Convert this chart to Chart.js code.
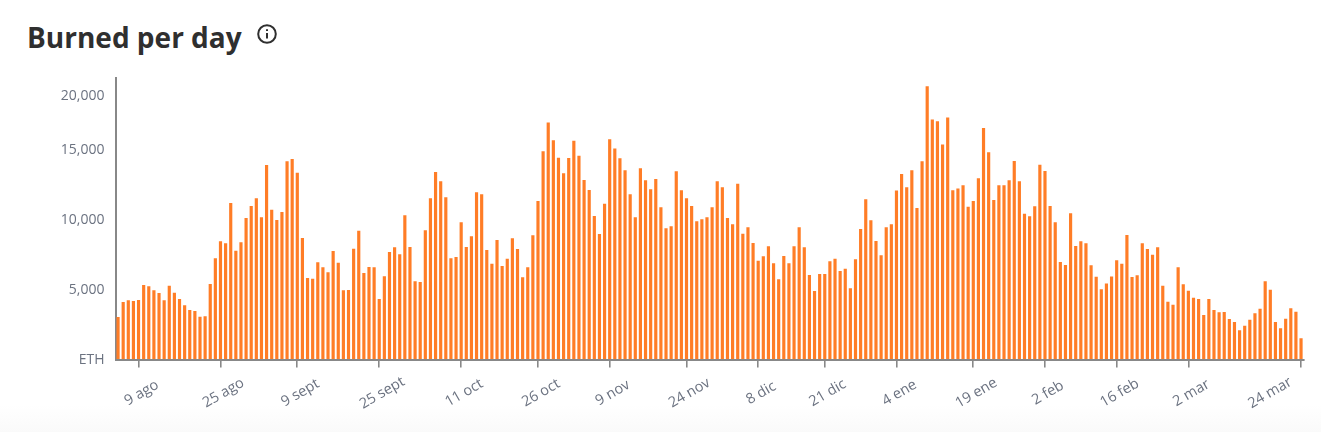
<!DOCTYPE html>
<html><head><meta charset="utf-8">
<script src="https://cdn.jsdelivr.net/npm/chart.js@4/dist/chart.umd.js"></script>
<style>
html,body{margin:0;padding:0;width:1321px;height:432px;overflow:hidden;background:#fff}
#bg{position:absolute;left:0;top:405px;width:1321px;height:27px;background:linear-gradient(#fff,#fafafa)}
#title{position:absolute;left:27px;top:17px;font:700 28px/40px "Open Sans",sans-serif;color:#2f2f2f;white-space:nowrap}
#info{position:absolute;left:256px;top:23px}
canvas{position:absolute;left:0;top:0}
</style></head><body>
<div id="bg"></div>
<div id="title">Burned per day</div>
<svg id="info" width="22" height="22" viewBox="0 0 22 22" fill="none" stroke="#2f2f2f" stroke-width="2">
<circle cx="11" cy="11" r="8.8"/><line x1="11" y1="10" x2="11" y2="15.5"/><line x1="11" y1="6.2" x2="11" y2="8"/></svg>
<canvas id="c" width="1321" height="432"></canvas>
<script>
const monthNames = ['ago','sept','oct','nov','dic','ene','feb','mar'];
const monthFirstDay = [5,1,1,1,1,1,1,1];
const monthLastDay = [31,30,31,30,31,31,28,24];
const xTickLabels = ['9 ago','25 ago','9 sept','25 sept','11 oct','26 oct','9 nov','24 nov','8 dic','21 dic','4 ene','19 ene','2 feb','16 feb','2 mar','24 mar'];
const yTickValues = [0,5000,10000,15000,20000];
const yTickLabels = ['ETH','5,000','10,000','15,000','20,000'];
const burned = [
3040,4110,4230,4180,4250,5320,5230,4940,4750,4230,5270,4770,4320,3870,3540,3460,3060,3090,5390,7230,
8440,8300,11180,7770,8370,10110,10960,11510,10160,13890,10700,9960,10540,14160,14320,13340,8680,5820,5770,6940,
6590,6230,7750,6910,4940,4960,7910,9200,6180,6610,6590,4320,5940,7680,8010,7510,10300,8040,5590,5540,
9230,11510,13390,12730,11590,7230,7320,9800,8040,8800,11940,11800,7820,6840,8540,6680,7200,8660,7890,5870,
6590,8870,11320,14870,17470,15860,14410,13300,14390,15800,14560,12820,12110,10250,8960,11130,15930,15090,14370,13510,
11800,10160,13660,12800,12160,12890,10870,9370,9510,13440,12090,11510,10960,9870,10010,10160,10870,12730,12300,10110,
9660,12560,8990,9440,8320,7060,7370,8090,6870,5730,7390,6870,8090,9440,8010,6040,4890,6110,6110,7010,
7200,6320,6490,5090,7160,9320,11440,9940,8460,7440,9440,9660,12070,13250,12300,13520,10820,14160,20830,17750,
17590,15460,17940,12090,12210,12440,10910,11320,12940,16970,14800,11390,12440,12440,12800,14180,12730,10410,10230,10940,
13910,13460,10960,9800,6960,6750,10440,8110,8440,8300,6730,5910,5010,5430,5930,7090,6840,8890,5890,6010,
8300,7890,7490,8010,5270,4130,3910,6590,5370,4910,4410,4320,3180,4320,3540,3370,3390,2890,2680,2090,
2410,2840,3300,3630,5590,4990,2680,2230,2910,3660,3410,1510];
const categories = [];
monthNames.forEach((m,i)=>{for(let d=monthFirstDay[i];d<=monthLastDay[i];d++)categories.push(d+' '+m);});

const yKnotValues = [0,5000,10000,15000,20000,21600];
const yKnotFractions = [0,0.2487,0.4973,0.7460,0.9396,1];
class PiecewiseScale extends Chart.LinearScale {
  static id = 'piecewise';
  static defaults = Chart.LinearScale.defaults;
  getPixelForValue(v){
    let i=0; while(i<yKnotValues.length-2 && v>yKnotValues[i+1]) i++;
    const t=(v-yKnotValues[i])/(yKnotValues[i+1]-yKnotValues[i]);
    const f=yKnotFractions[i]+t*(yKnotFractions[i+1]-yKnotFractions[i]);
    return this.bottom-f*(this.bottom-this.top);
  }
  getValueForPixel(p){
    const f=(this.bottom-p)/(this.bottom-this.top);
    let i=0; while(i<yKnotFractions.length-2 && f>yKnotFractions[i+1]) i++;
    const t=(f-yKnotFractions[i])/(yKnotFractions[i+1]-yKnotFractions[i]);
    return yKnotValues[i]+t*(yKnotValues[i+1]-yKnotValues[i]);
  }
}
Chart.register(PiecewiseScale);

const labelFont = '14.5px "Open Sans", sans-serif';
const rotatedLabels = {
  id:'rotatedLabels',
  afterDraw(chart){
    const s=chart.scales.x, ctx=chart.ctx, last=s.ticks.length-1;
    ctx.save();
    ctx.font=labelFont; ctx.fillStyle='#6b7280';
    ctx.textAlign='center'; ctx.textBaseline='middle';
    s.ticks.forEach((t,i)=>{
      ctx.save();
      ctx.translate(s.getPixelForTick(i)+(i===last?-31:3),393);
      ctx.rotate(-30*Math.PI/180);
      ctx.fillText(categories[t.value],0,0);
      ctx.restore();
    });
    ctx.restore();
  }
};

new Chart(document.getElementById('c'),{
  type:'bar',
  data:{labels:categories,datasets:[{data:burned,backgroundColor:'#ff7d26',borderWidth:0,barPercentage:0.62,categoryPercentage:1}]},
  plugins:[rotatedLabels],
  options:{
    responsive:false,animation:false,
    layout:{padding:{top:78,right:17.4,bottom:0,left:0}},
    plugins:{legend:{display:false},tooltip:{enabled:false},title:{display:false}},
    scales:{
      x:{
        type:'category',offset:true,
        grid:{display:true,offset:false,drawOnChartArea:false,drawTicks:true,tickLength:8,color:'#888',lineWidth:1.6},
        border:{display:true,color:'#888',width:2},
        ticks:{display:false,autoSkip:false},
        afterBuildTicks(s){s.ticks=s.ticks.filter(t=>xTickLabels.includes(categories[t.value]));},
        afterFit(s){s.height=72.5;}
      },
      y:{
        type:'piecewise',min:0,max:21600,
        grid:{display:true,drawOnChartArea:false,drawTicks:false},
        border:{display:true,color:'#888',width:2},
        ticks:{autoSkip:false,padding:11,labelOffset:1,color:'#6b7280',font:{family:'"Open Sans", sans-serif',size:14},
          callback(v){const i=yTickValues.indexOf(v);return i<0?null:yTickLabels[i];}},
        afterBuildTicks(s){s.ticks=yTickValues.map(v=>({value:v}));},
        afterFit(s){s.width=115.5;}
      }
    }
  }
});
</script>
</body></html>
